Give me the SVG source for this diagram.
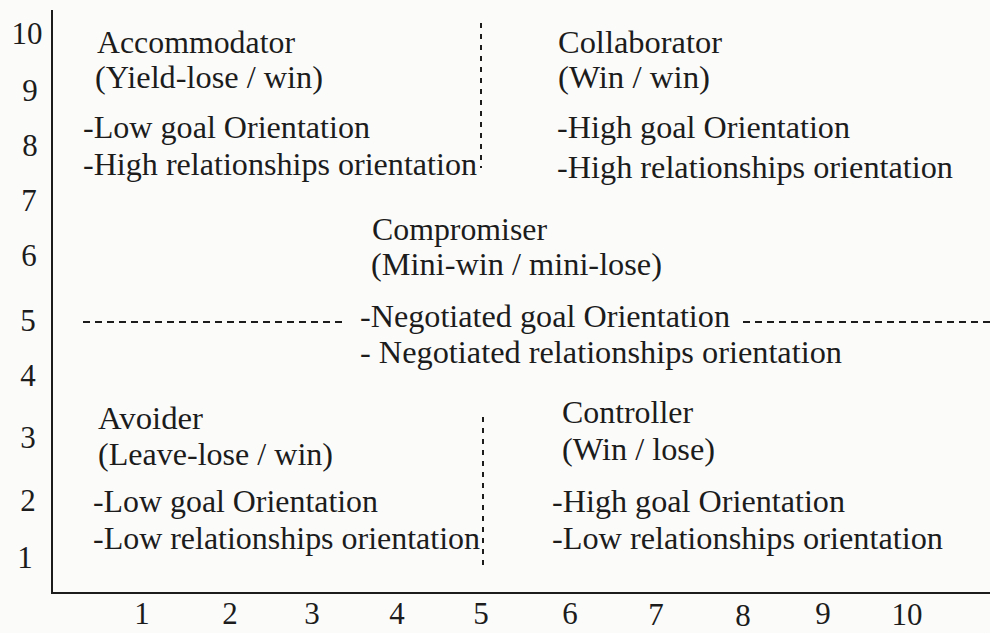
<svg xmlns="http://www.w3.org/2000/svg" width="990" height="633" viewBox="0 0 990 633">
  <style>
    .t { font-family: "Liberation Serif", "Times New Roman", serif; font-size: 31px; fill: #1c1c1c; }
    .n { font-family: "Liberation Serif", "Times New Roman", serif; font-size: 31px; fill: #1c1c1c; text-anchor: middle; }
    .axis { stroke: #1c1c1c; stroke-width: 2; fill: none; }
    .dh { stroke: #1c1c1c; stroke-width: 2; stroke-dasharray: 7 5; fill: none; }
    .dv { stroke: #1c1c1c; stroke-width: 2; stroke-dasharray: 5 6; fill: none; }
  </style>
  <rect x="0" y="0" width="990" height="633" fill="#fbfbfa"/>

  <g id="axes">
    <line class="axis" x1="52" y1="10" x2="52" y2="593"/>
    <line class="axis" x1="51" y1="593" x2="990" y2="593"/>
    <g id="y-labels">
      <text class="n" x="27" y="44">10</text>
      <text class="n" x="30" y="101">9</text>
      <text class="n" x="30" y="156">8</text>
      <text class="n" x="29" y="211">7</text>
      <text class="n" x="29" y="266">6</text>
      <text class="n" x="28" y="331">5</text>
      <text class="n" x="28" y="386">4</text>
      <text class="n" x="28" y="448">3</text>
      <text class="n" x="28" y="511">2</text>
      <text class="n" x="25" y="568">1</text>
    </g>
    <g id="x-labels">
      <text class="n" x="142" y="624">1</text>
      <text class="n" x="230" y="624">2</text>
      <text class="n" x="312" y="624">3</text>
      <text class="n" x="397" y="624">4</text>
      <text class="n" x="481" y="624">5</text>
      <text class="n" x="570" y="624">6</text>
      <text class="n" x="656" y="625">7</text>
      <text class="n" x="743" y="626">8</text>
      <text class="n" x="823" y="624">9</text>
      <text class="n" x="907" y="625">10</text>
    </g>
  </g>

  <g id="connectors">
    <line class="dv" x1="481" y1="23" x2="481" y2="168"/>
    <line class="dv" x1="483" y1="417" x2="483" y2="568"/>
    <line class="dh" x1="83" y1="322" x2="345" y2="322"/>
    <line class="dh" x1="743" y1="322" x2="990" y2="322"/>
  </g>

  <g id="accommodator">
    <text class="t" x="97" y="53" textLength="198" lengthAdjust="spacingAndGlyphs">Accommodator</text>
    <text class="t" x="95" y="88" textLength="228" lengthAdjust="spacingAndGlyphs">(Yield-lose / win)</text>
    <text class="t" x="83" y="138" textLength="287" lengthAdjust="spacingAndGlyphs">-Low goal Orientation</text>
    <text class="t" x="83" y="175" textLength="394" lengthAdjust="spacingAndGlyphs">-High relationships orientation</text>
  </g>

  <g id="collaborator">
    <text class="t" x="558" y="53" textLength="164" lengthAdjust="spacingAndGlyphs">Collaborator</text>
    <text class="t" x="558" y="88" textLength="152" lengthAdjust="spacingAndGlyphs">(Win / win)</text>
    <text class="t" x="557" y="138" textLength="293" lengthAdjust="spacingAndGlyphs">-High goal Orientation</text>
    <text class="t" x="557" y="178" textLength="396" lengthAdjust="spacingAndGlyphs">-High relationships orientation</text>
  </g>

  <g id="compromiser">
    <text class="t" x="372" y="240" textLength="175" lengthAdjust="spacingAndGlyphs">Compromiser</text>
    <text class="t" x="371" y="275" textLength="291" lengthAdjust="spacingAndGlyphs">(Mini-win / mini-lose)</text>
    <text class="t" x="360" y="327" textLength="370" lengthAdjust="spacingAndGlyphs">-Negotiated goal Orientation</text>
    <text class="t" x="360" y="363" textLength="482" lengthAdjust="spacingAndGlyphs">- Negotiated relationships orientation</text>
  </g>

  <g id="avoider">
    <text class="t" x="98" y="429" textLength="105" lengthAdjust="spacingAndGlyphs">Avoider</text>
    <text class="t" x="98" y="465" textLength="235" lengthAdjust="spacingAndGlyphs">(Leave-lose / win)</text>
    <text class="t" x="93" y="512" textLength="285" lengthAdjust="spacingAndGlyphs">-Low goal Orientation</text>
    <text class="t" x="93" y="549" textLength="387" lengthAdjust="spacingAndGlyphs">-Low relationships orientation</text>
  </g>

  <g id="controller">
    <text class="t" x="562" y="423" textLength="131" lengthAdjust="spacingAndGlyphs">Controller</text>
    <text class="t" x="562" y="460" textLength="153" lengthAdjust="spacingAndGlyphs">(Win / lose)</text>
    <text class="t" x="552" y="512" textLength="293" lengthAdjust="spacingAndGlyphs">-High goal Orientation</text>
    <text class="t" x="552" y="549" textLength="391" lengthAdjust="spacingAndGlyphs">-Low relationships orientation</text>
  </g>
</svg>
